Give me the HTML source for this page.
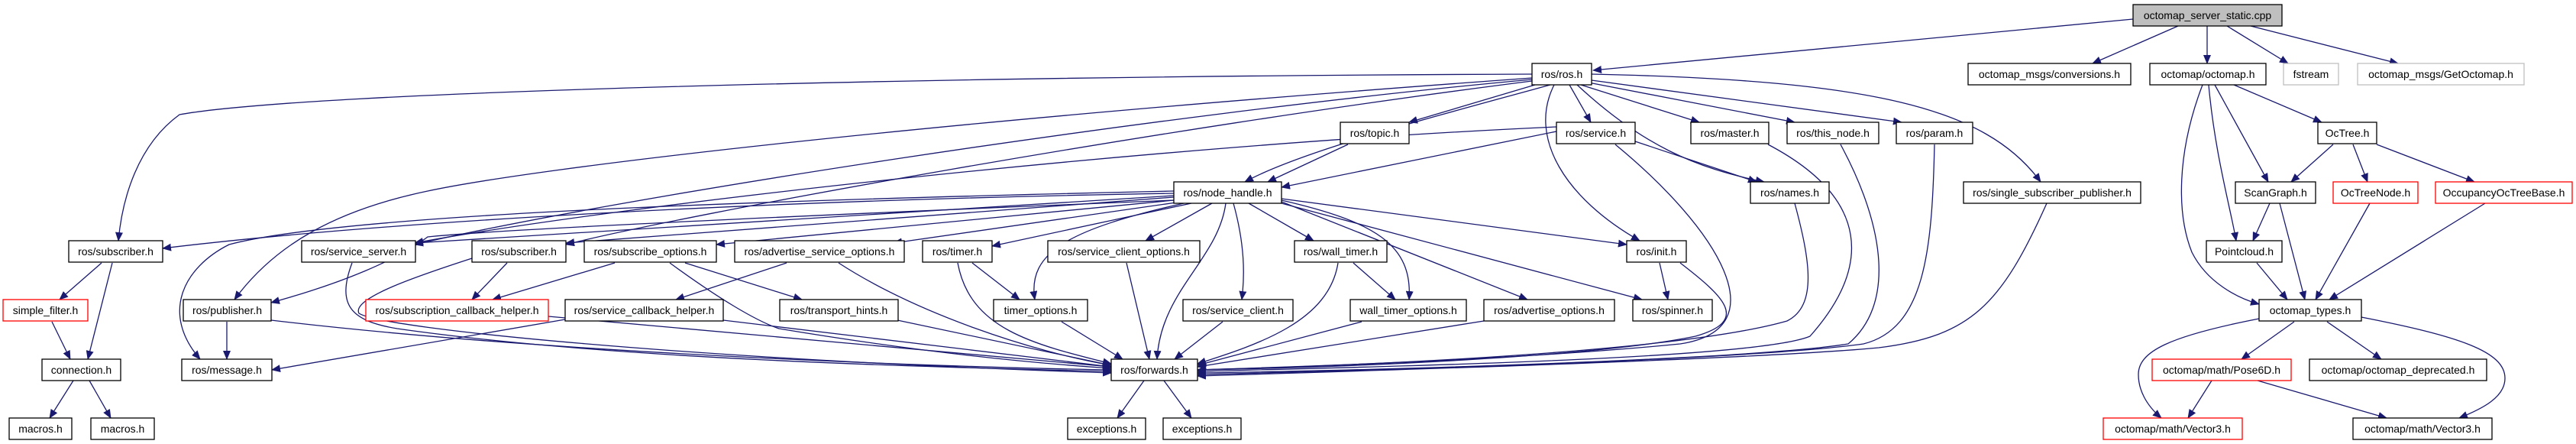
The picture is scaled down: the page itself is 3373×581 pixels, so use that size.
<!DOCTYPE html>
<html><head><meta charset="utf-8"><style>
html,body{margin:0;padding:0;background:#fff;}
svg{display:block;}
text{font-family:"Liberation Sans",sans-serif;font-size:14px;fill:#000;}
</style></head><body>
<svg width="3373" height="581" viewBox="0 0 3373 581" xmlns="http://www.w3.org/2000/svg">
<defs><marker id="a" markerWidth="12" markerHeight="10" refX="11" refY="5" orient="auto" markerUnits="userSpaceOnUse"><path d="M0,0L12,5L0,10z" fill="#191970"/></marker></defs>
<g fill="none" stroke="#191970" stroke-width="1.3" marker-end="url(#a)">
<path d="M2793,25 L2086,92"/>
<path d="M2852,34 L2740,83"/>
<path d="M2890,34 L2890,83"/>
<path d="M2916,34 L2996,83"/>
<path d="M2947,34 L3140,83"/>
<path d="M2006,97 C1200,100 400,120 235,150 C180,190 160,260 155,315"/>
<path d="M2006,102 C1200,160 700,220 560,250 C440,275 360,320 307,392"/>
<path d="M2006,104 C1500,150 800,260 543,320"/>
<path d="M2006,106 C1500,170 900,280 741,320"/>
<path d="M2030,111 C1850,160 1700,200 1630,238"/>
<path d="M2010,111 L1845,160"/>
<path d="M2055,111 L2083,160"/>
<path d="M2070,111 L2225,160"/>
<path d="M2080,108 L2350,160"/>
<path d="M2084,105 L2490,160"/>
<path d="M2065,111 C2150,190 2220,220 2310,238"/>
<path d="M2035,111 C2000,180 2050,260 2147,315"/>
<path d="M2084,97 C2450,105 2600,140 2672,238"/>
<path d="M2038,172 L1678,245"/>
<path d="M2038,166 C1500,190 800,270 543,318"/>
<path d="M2141,185 L2300,238"/>
<path d="M2115,189 C2250,300 2330,430 2200,450 C2000,470 1700,480 1568,484"/>
<path d="M1765,189 L1660,238"/>
<path d="M2315,189 C2450,260 2450,350 2370,440 C2300,470 1800,480 1568,486"/>
<path d="M2410,189 C2470,300 2480,400 2420,450 C2300,470 1800,485 1568,488"/>
<path d="M2533,189 C2530,330 2520,430 2440,450 C2300,470 1800,485 1568,490"/>
<path d="M2350,266 C2370,340 2380,400 2340,420 C2200,460 1800,478 1568,484"/>
<path d="M2680,266 C2620,400 2580,440 2460,455 C2300,470 1800,485 1568,492"/>
<path d="M2173,344 L2184,392"/>
<path d="M2200,344 C2260,390 2290,420 2220,440 C2100,465 1800,480 1568,484"/>
<path d="M1537,253 C1000,262 500,290 213,325"/>
<path d="M1537,256 L543,318"/>
<path d="M1537,258 L741,318"/>
<path d="M1537,262 L938,320"/>
<path d="M1540,265 L1170,318"/>
<path d="M1560,266 L1299,322"/>
<path d="M1550,266 C1400,300 1345,330 1355,392"/>
<path d="M1587,266 L1500,315"/>
<path d="M1605,266 C1595,340 1520,380 1515,470"/>
<path d="M1615,266 C1630,320 1630,360 1626,392"/>
<path d="M1635,266 L1720,315"/>
<path d="M1678,262 C1800,290 1850,320 1845,392"/>
<path d="M1678,264 L2000,392"/>
<path d="M1678,266 L2150,392"/>
<path d="M1678,260 L2130,320"/>
<path d="M1537,262 C1100,280 650,300 560,310 C520,340 450,370 355,396"/>
<path d="M1537,250 C1000,262 450,280 300,320 C240,350 210,410 262,470"/>
<path d="M133,344 L78,392"/>
<path d="M147,344 L115,470"/>
<path d="M68,421 L92,470"/>
<path d="M96,498 L65,547"/>
<path d="M117,498 L145,547"/>
<path d="M297,421 L297,470"/>
<path d="M355,419 C700,460 1200,480 1455,484"/>
<path d="M461,344 C440,400 460,420 520,430 C800,470 1200,480 1455,486"/>
<path d="M664,344 L618,392"/>
<path d="M618,338 C550,360 460,390 470,410 C500,430 900,470 1455,488"/>
<path d="M805,344 L645,392"/>
<path d="M897,344 L1050,392"/>
<path d="M877,344 C940,390 990,420 1020,430 C1200,460 1350,475 1455,482"/>
<path d="M718,414 L1455,480"/>
<path d="M740,418 L356,484"/>
<path d="M947,419 L1455,480"/>
<path d="M1030,344 L885,392"/>
<path d="M1098,344 C1200,410 1350,460 1455,478"/>
<path d="M1175,419 L1455,478"/>
<path d="M1273,344 L1335,392"/>
<path d="M1254,344 C1270,430 1350,450 1455,476"/>
<path d="M1475,344 L1505,470"/>
<path d="M1390,421 L1470,470"/>
<path d="M1601,421 L1538,470"/>
<path d="M1772,344 L1827,392"/>
<path d="M1752,344 C1740,420 1650,450 1568,476"/>
<path d="M1783,421 L1568,478"/>
<path d="M1943,420 L1568,480"/>
<path d="M1498,498 L1463,547"/>
<path d="M1524,498 L1560,547"/>
<path d="M2925,111 L3040,160"/>
<path d="M2900,111 L2970,238"/>
<path d="M2892,111 C2900,200 2920,270 2928,315"/>
<path d="M2884,111 C2850,200 2850,280 2870,330 C2890,370 2930,390 2958,398"/>
<path d="M3055,189 L3000,238"/>
<path d="M3081,189 L3100,238"/>
<path d="M3112,189 L3240,238"/>
<path d="M2972,266 L2950,315"/>
<path d="M2985,266 L3018,392"/>
<path d="M2955,344 L2995,392"/>
<path d="M3103,266 L3032,392"/>
<path d="M3254,266 L3050,392"/>
<path d="M3004,421 L2935,470"/>
<path d="M3047,421 L3118,470"/>
<path d="M2958,417 C2840,440 2800,460 2800,490 C2800,510 2810,530 2830,547"/>
<path d="M3092,415 C3220,440 3280,460 3280,495 C3280,520 3250,535 3220,547"/>
<path d="M2896,498 L2865,547"/>
<path d="M2956,498 L3125,547"/>
</g>
<g stroke-width="1.3" text-anchor="middle">
<rect x="2793" y="6" width="195" height="28" fill="#bfbfbf" stroke="#000"/><text x="2890.5" y="25">octomap_server_static.cpp</text>
<rect x="2006" y="83" width="78" height="28" fill="#fff" stroke="#000"/><text x="2045" y="102">ros/ros.h</text>
<rect x="2577" y="83" width="213" height="28" fill="#fff" stroke="#000"/><text x="2683.5" y="102">octomap_msgs/conversions.h</text>
<rect x="2815" y="83" width="152" height="28" fill="#fff" stroke="#000"/><text x="2891" y="102">octomap/octomap.h</text>
<rect x="2990" y="83" width="72" height="28" fill="#fff" stroke="#bfbfbf"/><text x="3026" y="102">fstream</text>
<rect x="3087" y="83" width="218" height="28" fill="#fff" stroke="#bfbfbf"/><text x="3196" y="102">octomap_msgs/GetOctomap.h</text>
<rect x="1755" y="160" width="90" height="28" fill="#fff" stroke="#000"/><text x="1800" y="179">ros/topic.h</text>
<rect x="2038" y="160" width="103" height="28" fill="#fff" stroke="#000"/><text x="2089.5" y="179">ros/service.h</text>
<rect x="2214" y="160" width="102" height="28" fill="#fff" stroke="#000"/><text x="2265" y="179">ros/master.h</text>
<rect x="2340" y="160" width="120" height="28" fill="#fff" stroke="#000"/><text x="2400" y="179">ros/this_node.h</text>
<rect x="2483" y="160" width="100" height="28" fill="#fff" stroke="#000"/><text x="2533" y="179">ros/param.h</text>
<rect x="3035" y="160" width="77" height="28" fill="#fff" stroke="#000"/><text x="3073.5" y="179">OcTree.h</text>
<rect x="1537" y="238" width="141" height="28" fill="#fff" stroke="#000"/><text x="1607.5" y="257">ros/node_handle.h</text>
<rect x="2292" y="238" width="103" height="28" fill="#fff" stroke="#000"/><text x="2343.5" y="257">ros/names.h</text>
<rect x="2571" y="238" width="232" height="28" fill="#fff" stroke="#000"/><text x="2687" y="257">ros/single_subscriber_publisher.h</text>
<rect x="2927" y="238" width="105" height="28" fill="#fff" stroke="#000"/><text x="2979.5" y="257">ScanGraph.h</text>
<rect x="3055" y="238" width="111" height="28" fill="#fff" stroke="#ff0000"/><text x="3110.5" y="257">OcTreeNode.h</text>
<rect x="3189" y="238" width="179" height="28" fill="#fff" stroke="#ff0000"/><text x="3278.5" y="257">OccupancyOcTreeBase.h</text>
<rect x="90" y="315" width="123" height="28" fill="#fff" stroke="#000"/><text x="151.5" y="334">ros/subscriber.h</text>
<rect x="395" y="315" width="149" height="28" fill="#fff" stroke="#000"/><text x="469.5" y="334">ros/service_server.h</text>
<rect x="618" y="315" width="123" height="28" fill="#fff" stroke="#000"/><text x="679.5" y="334">ros/subscriber.h</text>
<rect x="765" y="315" width="173" height="28" fill="#fff" stroke="#000"/><text x="851.5" y="334">ros/subscribe_options.h</text>
<rect x="962" y="315" width="222" height="28" fill="#fff" stroke="#000"/><text x="1073" y="334">ros/advertise_service_options.h</text>
<rect x="1208" y="315" width="91" height="28" fill="#fff" stroke="#000"/><text x="1253.5" y="334">ros/timer.h</text>
<rect x="1372" y="315" width="199" height="28" fill="#fff" stroke="#000"/><text x="1471.5" y="334">ros/service_client_options.h</text>
<rect x="1695" y="315" width="121" height="28" fill="#fff" stroke="#000"/><text x="1755.5" y="334">ros/wall_timer.h</text>
<rect x="2130" y="315" width="78" height="28" fill="#fff" stroke="#000"/><text x="2169" y="334">ros/init.h</text>
<rect x="2889" y="315" width="99" height="28" fill="#fff" stroke="#000"/><text x="2938.5" y="334">Pointcloud.h</text>
<rect x="4" y="392" width="111" height="28" fill="#fff" stroke="#ff0000"/><text x="59.5" y="411">simple_filter.h</text>
<rect x="240" y="392" width="115" height="28" fill="#fff" stroke="#000"/><text x="297.5" y="411">ros/publisher.h</text>
<rect x="479" y="392" width="239" height="28" fill="#fff" stroke="#ff0000"/><text x="598.5" y="411">ros/subscription_callback_helper.h</text>
<rect x="740" y="392" width="207" height="28" fill="#fff" stroke="#000"/><text x="843.5" y="411">ros/service_callback_helper.h</text>
<rect x="1021" y="392" width="155" height="28" fill="#fff" stroke="#000"/><text x="1098.5" y="411">ros/transport_hints.h</text>
<rect x="1301" y="392" width="123" height="28" fill="#fff" stroke="#000"/><text x="1362.5" y="411">timer_options.h</text>
<rect x="1549" y="392" width="144" height="28" fill="#fff" stroke="#000"/><text x="1621" y="411">ros/service_client.h</text>
<rect x="1768" y="392" width="152" height="28" fill="#fff" stroke="#000"/><text x="1844" y="411">wall_timer_options.h</text>
<rect x="1943" y="392" width="171" height="28" fill="#fff" stroke="#000"/><text x="2028.5" y="411">ros/advertise_options.h</text>
<rect x="2138" y="392" width="104" height="28" fill="#fff" stroke="#000"/><text x="2190" y="411">ros/spinner.h</text>
<rect x="2958" y="392" width="134" height="28" fill="#fff" stroke="#000"/><text x="3025" y="411">octomap_types.h</text>
<rect x="55" y="470" width="103" height="28" fill="#fff" stroke="#000"/><text x="106.5" y="489">connection.h</text>
<rect x="238" y="470" width="118" height="28" fill="#fff" stroke="#000"/><text x="297" y="489">ros/message.h</text>
<rect x="1455" y="470" width="113" height="28" fill="#fff" stroke="#000"/><text x="1511.5" y="489">ros/forwards.h</text>
<rect x="2818" y="470" width="182" height="28" fill="#fff" stroke="#ff0000"/><text x="2909" y="489">octomap/math/Pose6D.h</text>
<rect x="3024" y="470" width="232" height="28" fill="#fff" stroke="#000"/><text x="3140" y="489">octomap/octomap_deprecated.h</text>
<rect x="12" y="547" width="82" height="28" fill="#fff" stroke="#000"/><text x="53" y="566">macros.h</text>
<rect x="119" y="547" width="83" height="28" fill="#fff" stroke="#000"/><text x="160.5" y="566">macros.h</text>
<rect x="1398" y="547" width="102" height="28" fill="#fff" stroke="#000"/><text x="1449" y="566">exceptions.h</text>
<rect x="1523" y="547" width="102" height="28" fill="#fff" stroke="#000"/><text x="1574" y="566">exceptions.h</text>
<rect x="2754" y="547" width="182" height="28" fill="#fff" stroke="#ff0000"/><text x="2845" y="566">octomap/math/Vector3.h</text>
<rect x="3081" y="547" width="182" height="28" fill="#fff" stroke="#000"/><text x="3172" y="566">octomap/math/Vector3.h</text>
</g>
</svg>
</body></html>
